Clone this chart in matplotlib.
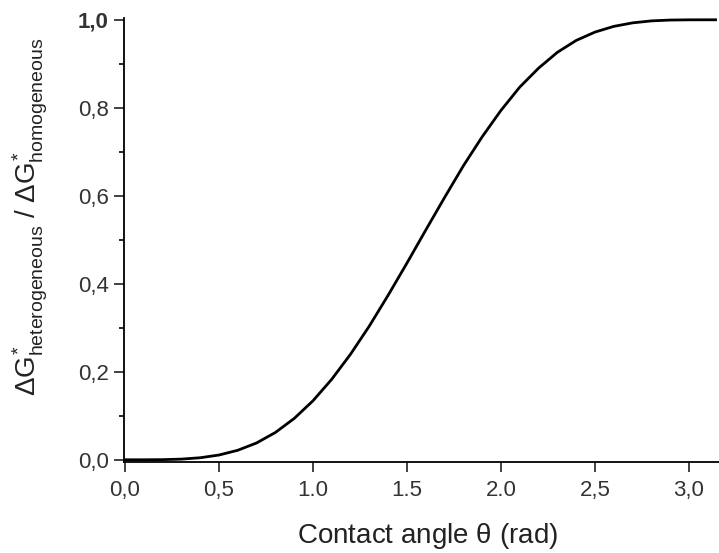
import numpy as np
import matplotlib
matplotlib.use('Agg')
import matplotlib.pyplot as plt
from matplotlib.ticker import MultipleLocator

plt.rcParams['font.family'] = ['Liberation Sans', 'DejaVu Sans']
plt.rcParams['mathtext.fontset'] = 'custom'
plt.rcParams['mathtext.rm'] = 'Liberation Sans'
plt.rcParams['mathtext.it'] = 'Liberation Sans'
plt.rcParams['mathtext.bf'] = 'Liberation Sans:bold'

# values
theta = [0.0, 0.1, 0.2, 0.3, 0.4, 0.5, 0.6, 0.7, 0.8, 0.9, 1.0,
         1.1, 1.2, 1.3, 1.4, 1.5, 1.6, 1.7, 1.8, 1.9, 2.0,
         2.1, 2.2, 2.3, 2.4, 2.5, 2.6, 2.7, 2.8, 2.9, 3.0, 3.1, 3.1416]
ratio = [0.0, 0.0, 0.0003, 0.0015, 0.0046, 0.0108, 0.0216, 0.0382, 0.062, 0.0938, 0.134,
         0.183, 0.240, 0.304, 0.374, 0.447, 0.522, 0.596, 0.668, 0.734, 0.794,
         0.847, 0.890, 0.926, 0.953, 0.972, 0.985, 0.993, 0.9975, 0.9994, 0.9999, 1.0, 1.0]

x_ticks = [0.0, 0.5, 1.0, 1.5, 2.0, 2.5, 3.0]
x_labels = ['0,0', '0,5', '1.0', '1.5', '2.0', '2,5', '3,0']
y_ticks = [0.0, 0.2, 0.4, 0.6, 0.8, 1.0]
y_labels = ['0,0', '0,2', '0,4', '0,6', '0,8', '1,0']

fig = plt.figure(figsize=(7.19, 5.53), dpi=100)
ax = fig.add_axes([0.1725, 0.1646, 0.8275, 0.802])

ax.plot(theta, ratio, color='black', linewidth=2)

ax.set_xlim(-0.005, 3.16)
ax.set_ylim(-0.005, 1.003)

ax.spines['top'].set_visible(False)
ax.spines['right'].set_visible(False)
ax.spines['left'].set_linewidth(1.3)
ax.spines['bottom'].set_linewidth(1.3)

ax.set_xticks(x_ticks)
ax.set_xticklabels(x_labels)
ax.set_yticks(y_ticks)
ax.set_yticklabels(y_labels)
ax.yaxis.set_minor_locator(MultipleLocator(0.1))
ax.tick_params(axis='both', which='major', direction='out', length=7, width=1.2,
               labelsize=16, colors='#222222', labelcolor='#333333')
ax.tick_params(axis='x', which='major', pad=6)
ax.tick_params(axis='y', which='major', pad=4)
ax.tick_params(axis='y', which='minor', direction='out', length=3.6, width=1.2)
ax.get_yticklabels()[-1].set_fontweight('bold')

ax.set_xlabel(r'Contact angle $\theta$ (rad)', fontsize=20, color='#222222')
ax.xaxis.set_label_coords(0.51, -0.133)
ax.set_ylabel(r'$\Delta G^{*}_{\mathrm{heterogeneous}}$ / $\Delta G^{*}_{\mathrm{homogeneous}}$',
              fontsize=20, color='#222222')
ax.yaxis.set_label_coords(-0.124, 0.552)

fig.savefig('out.png', dpi=100)
